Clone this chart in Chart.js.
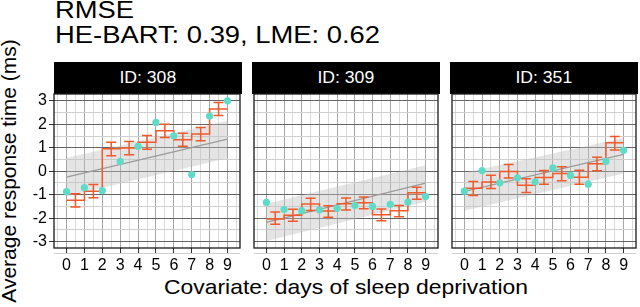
<!DOCTYPE html>
<html>
<head>
<meta charset="utf-8">
<script src="https://cdn.jsdelivr.net/npm/chart.js@4.4.0/dist/chart.umd.min.js"></script>
<style>
  body { margin: 0; background: #fff; font-family: "Liberation Sans", Arial, sans-serif; }
  #wrap { position: relative; width: 640px; height: 307px; overflow: hidden; }
  .title { position: absolute; left: 55px; top: -2px; font-size: 23px; line-height: 25px;
           transform-origin: 0 0; transform: scaleX(1.19); white-space: nowrap; }
  .strip { position: absolute; top: 62px; height: 32px; background: #000; color: #fff;
           font-size: 16px; line-height: 32px; text-align: center; }
  .strip span { display: inline-block; transform: scaleX(1.1); }
  .panel { position: absolute; top: 90px; }
  #ytitle { position: absolute; left: 9px; top: 171px; font-size: 21px; white-space: nowrap;
            transform: translate(-50%, -50%) rotate(-90deg); }
  #xtitle { position: absolute; left: 346px; top: 275px; font-size: 21px; white-space: nowrap;
            transform: translateX(-50%) scaleX(1.09); }
</style>
</head>
<body>
<div id="wrap">
  <div class="title">RMSE<br>HE-BART: 0.39, LME: 0.62</div>
  <div id="ytitle">Average response time (ms)</div>
  <div id="xtitle">Covariate: days of sleep deprivation</div>
</div>
<script>
const days = [0, 1, 2, 3, 4, 5, 6, 7, 8, 9];
const panelIds = ["ID: 308", "ID: 309", "ID: 351"];
const xTicks = [0, 1, 2, 3, 4, 5, 6, 7, 8, 9];
const yTicks = [-3, -2, -1, 0, 1, 2, 3];

// observed response times (points)
const observed308 = [-0.87, -0.7, -0.83, 0.42, 1.06, 2.08, 1.51, -0.14, 2.35, 3.0];
const observed309 = [-1.33, -1.63, -1.68, -1.65, -1.58, -1.46, -1.5, -1.41, -1.31, -1.08];
const observed351 = [-0.85, 0.03, -0.49, -0.28, -0.45, 0.14, -0.18, -0.55, 0.42, 0.89];

// HE-BART prediction per day step, with interval
const hebart308 = [-1.24, -0.85, 0.96, 0.99, 1.23, 1.72, 1.34, 1.59, 2.65];
const hebartLow308 = [-1.52, -1.13, 0.66, 0.7, 0.94, 1.44, 1.06, 1.3, 2.37];
const hebartHigh308 = [-0.96, -0.56, 1.24, 1.27, 1.52, 2.0, 1.62, 1.86, 2.93];

const hebart309 = [-2.03, -1.87, -1.4, -1.69, -1.39, -1.34, -1.85, -1.68, -0.92];
const hebartLow309 = [-2.26, -2.13, -1.67, -1.96, -1.65, -1.6, -2.11, -1.94, -1.19];
const hebartHigh309 = [-1.74, -1.62, -1.15, -1.47, -1.14, -1.1, -1.61, -1.46, -0.68];

const hebart351 = [-0.73, -0.46, -0.01, -0.6, -0.27, -0.1, -0.26, 0.32, 1.21];
const hebartLow351 = [-1.03, -0.74, -0.29, -0.91, -0.55, -0.4, -0.55, 0.02, 0.9];
const hebartHigh351 = [-0.44, -0.17, 0.29, -0.32, 0.03, 0.19, 0.04, 0.6, 1.48];

// LME fit and band at day 0 and day 9
const lmeDays = [0, 9];
const lme308 = [-0.25, 1.37];
const lmeLow308 = [-1.07, 0.55];
const lmeHigh308 = [0.56, 2.15];
const lme309 = [-2.18, -0.51];
const lmeLow309 = [-2.97, -1.3];
const lmeHigh309 = [-1.38, 0.25];
const lme351 = [-0.86, 0.72];
const lmeLow351 = [-1.68, -0.1];
const lmeHigh351 = [-0.06, 1.42];

const panels = [
  { obs: observed308, mean: hebart308, lo: hebartLow308, hi: hebartHigh308, lme: lme308, lmeLo: lmeLow308, lmeHi: lmeHigh308 },
  { obs: observed309, mean: hebart309, lo: hebartLow309, hi: hebartHigh309, lme: lme309, lmeLo: lmeLow309, lmeHi: lmeHigh309 },
  { obs: observed351, mean: hebart351, lo: hebartLow351, hi: hebartHigh351, lme: lme351, lmeLo: lmeLow351, lmeHi: lmeHigh351 },
];

const ORANGE = "#f2592a";
const CYAN = "#5edcc8";
const CAP = 0.28;

Chart.defaults.font.family = '"Liberation Sans", Arial, sans-serif';
Chart.defaults.color = "#000";

// integer breaks plus the half-way minor lines
const half = (list) => {
  const out = [];
  list.forEach((v, i) => {
    out.push(v);
    if (i < list.length - 1) out.push(v + 0.5);
  });
  return [list[0] - 0.5, ...out, list[list.length - 1] + 0.5];
};

const toPoints = (xs, ys) => ys.map((y, i) => ({ x: xs[i], y }));

const errorBars = (lo, hi) => {
  const pts = [];
  lo.forEach((l, i) => {
    const x = days[i] + 0.5;
    const h = hi[i];
    pts.push({ x: x - CAP, y: h }, { x: x + CAP, y: h }, { x, y: null });
    pts.push({ x, y: h }, { x, y: l }, { x, y: null });
    pts.push({ x: x - CAP, y: l }, { x: x + CAP, y: l }, { x, y: null });
  });
  return pts;
};

const panelFrame = {
  id: "panelFrame",
  afterDraw(chart) {
    const { ctx, chartArea: a } = chart;
    ctx.save();
    ctx.strokeStyle = "#1a1a1a";
    ctx.lineWidth = 1.3;
    ctx.strokeRect(a.left, a.top, a.right - a.left, a.bottom - a.top);
    ctx.restore();
  },
};

const isMajor = (ctx) => ctx.tick && Number.isInteger(ctx.tick.value);

const panelLeft = [54, 252, 450];
const panelWidth = 188;

panels.forEach((p, k) => {
  const yAxisW = k === 0 ? 54 : 0;
  const padL = k === 0 ? 0 : 2;
  const width = yAxisW + padL + panelWidth + 2;

  const strip = document.createElement("div");
  strip.className = "strip";
  strip.style.left = panelLeft[k] + "px";
  strip.style.width = panelWidth + "px";
  strip.innerHTML = "<span>" + panelIds[k] + "</span>";
  document.getElementById("wrap").appendChild(strip);

  const box = document.createElement("div");
  box.className = "panel";
  box.style.left = panelLeft[k] - yAxisW - padL + "px";
  const canvas = document.createElement("canvas");
  canvas.width = width;
  canvas.height = 190;
  box.appendChild(canvas);
  document.getElementById("wrap").appendChild(box);

  const stepData = toPoints(days, p.mean).concat({ x: p.mean.length, y: p.mean[p.mean.length - 1] });

  new Chart(canvas.getContext("2d"), {
    type: "line",
    data: {
      datasets: [
        { label: "Observed", data: toPoints(days, p.obs), showLine: false,
          pointRadius: 3.6, pointBackgroundColor: CYAN, pointBorderWidth: 0 },
        { label: "HE-BART interval", data: errorBars(p.lo, p.hi), borderColor: ORANGE,
          borderWidth: 1.5, pointRadius: 0, spanGaps: false },
        { label: "HE-BART", data: stepData, stepped: "before", borderColor: ORANGE,
          borderWidth: 1.5, pointRadius: 0 },
        { label: "LME", data: toPoints(lmeDays, p.lme), borderColor: "#9c9c9c",
          borderWidth: 1.3, pointRadius: 0 },
        { label: "LME upper", data: toPoints(lmeDays, p.lmeHi), borderWidth: 0,
          pointRadius: 0, fill: "+1", backgroundColor: "rgba(190,190,190,0.42)" },
        { label: "LME lower", data: toPoints(lmeDays, p.lmeLo), borderWidth: 0,
          pointRadius: 0 },
      ],
    },
    options: {
      responsive: false,
      animation: false,
      layout: { padding: { top: 4, left: padL, right: 2, bottom: 0 } },
      plugins: { legend: { display: false }, tooltip: { enabled: false } },
      scales: {
        x: {
          type: "linear",
          min: -0.7,
          max: 9.7,
          afterBuildTicks: (s) => { s.ticks = half(xTicks).map((v) => ({ value: v })); },
          afterFit: (s) => { s.height = 32; s.paddingLeft = 0; s.paddingRight = 0; },
          border: { display: false },
          grid: {
            color: (ctx) => (isMajor(ctx) ? "#a6a6a6" : "#dadada"),
            lineWidth: 1,
            tickLength: 5,
            tickColor: (ctx) => (isMajor(ctx) ? "#333" : "rgba(0,0,0,0)"),
          },
          ticks: {
            autoSkip: false,
            maxRotation: 0,
            padding: 3,
            font: { size: 16 },
            callback: (v) => (Number.isInteger(v) ? String(v) : ""),
          },
        },
        y: {
          type: "linear",
          min: -3.27,
          max: 3.29,
          afterBuildTicks: (s) => { s.ticks = half(yTicks).map((v) => ({ value: v })); },
          afterFit: (s) => { s.width = yAxisW; s.paddingTop = 0; s.paddingBottom = 0; },
          border: { display: false },
          grid: {
            color: (ctx) => (isMajor(ctx) ? "#666" : "#d0d0d0"),
            lineWidth: 1,
            drawTicks: k === 0,
            tickLength: 5,
            tickColor: (ctx) => (isMajor(ctx) ? "#333" : "rgba(0,0,0,0)"),
          },
          ticks: {
            display: k === 0,
            autoSkip: false,
            padding: 2,
            font: { size: 16 },
            callback: (v) => (Number.isInteger(v) ? String(v) : ""),
          },
        },
      },
    },
    plugins: [panelFrame],
  });
});
</script>
</body>
</html>
